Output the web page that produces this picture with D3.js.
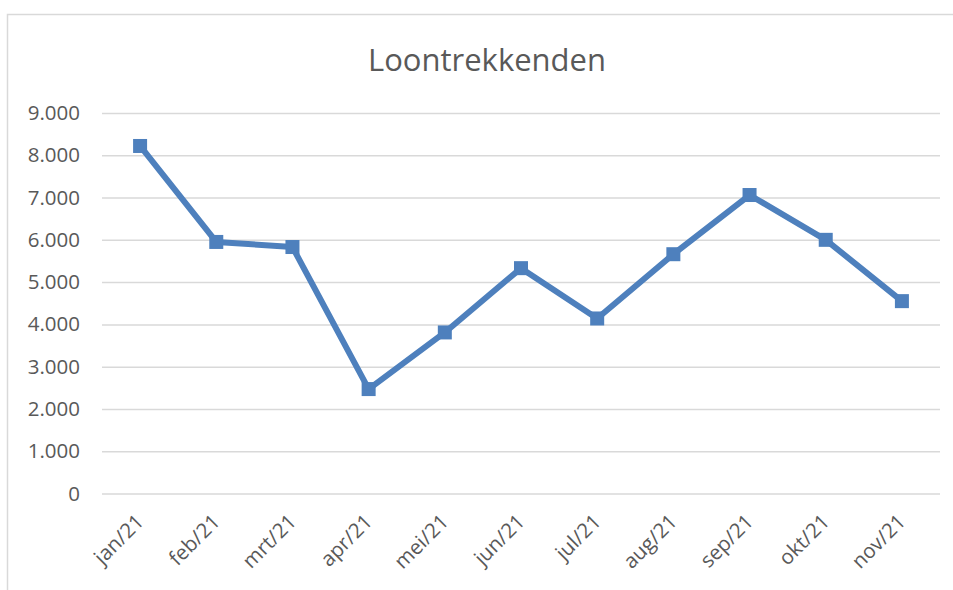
<!DOCTYPE html>
<html>
<head>
<meta charset="utf-8">
<script src="https://cdn.jsdelivr.net/npm/d3@7"></script>
<style>
  body { margin: 0; background: #fff; }
  text { font-family: "Open Sans", sans-serif; fill: #595959; }
</style>
</head>
<body>
<div id="chart"></div>
<script>
  // Data
  var months = ['jan/21', 'feb/21', 'mrt/21', 'apr/21', 'mei/21', 'jun/21',
                'jul/21', 'aug/21', 'sep/21', 'okt/21', 'nov/21'];
  var values = [8220, 5950, 5830, 2470, 3810, 5330, 4140, 5660, 7060, 6000, 4550];
  var yTicks = [0, 1000, 2000, 3000, 4000, 5000, 6000, 7000, 8000, 9000];
  var title = 'Loontrekkenden';

  (function () {
    var width = 953;
    var height = 590;
    var plotLeft = 102, plotRight = 940, plotTop = 113, plotBottom = 493.5;
    var color = '#4e80bd';
    var grid = '#d9d9d9';

    var svg = d3.select('#chart')
        .append('svg')
        .attr('width', width)
        .attr('height', height);

    // chart border
    svg.append('rect')
        .attr('x', 7.5).attr('y', 14.5)
        .attr('width', width + 10).attr('height', height + 10)
        .attr('fill', 'none')
        .attr('stroke', grid)
        .attr('stroke-width', 1.5);

    var x = d3.scalePoint()
        .domain(months)
        .range([plotLeft, plotRight])
        .padding(0.5);

    var y = d3.scaleLinear()
        .domain([0, 9000])
        .range([plotBottom, plotTop]);

    var fmt = function(d) {
      return d === 0 ? '0' : d3.format(',')(d).replace(/,/g, '.');
    };

    // gridlines + y labels
    var yAxis = svg.append('g')
        .attr('transform', 'translate(' + plotLeft + ',0)')
        .call(d3.axisLeft(y)
            .tickValues(yTicks)
            .tickSize(-(plotRight - plotLeft))
            .tickPadding(22)
            .tickFormat(fmt));
    yAxis.select('.domain').remove();
    yAxis.selectAll('.tick line')
        .attr('stroke', grid)
        .attr('stroke-width', 1.5);
    yAxis.selectAll('.tick text')
        .attr('font-size', 20.5)
        .attr('font-family', '"Open Sans", sans-serif')
        .attr('fill', '#595959');

    // x labels
    svg.append('g')
        .selectAll('text')
        .data(months)
        .enter()
        .append('text')
        .attr('text-anchor', 'end')
        .attr('font-size', 20.5)
        .attr('transform', function(d) {
          return 'translate(' + (x(d) + 5) + ',' + 523 + ') rotate(-45)';
        })
        .text(function(d) { return d; });

    // line
    var line = d3.line()
        .x(function(d, i) { return x(months[i]); })
        .y(function(d) { return y(d); });

    svg.append('path')
        .datum(values)
        .attr('d', line)
        .attr('fill', 'none')
        .attr('stroke', color)
        .attr('stroke-width', 6)
        .attr('stroke-linejoin', 'round');

    var ms = 14;
    svg.selectAll('rect.marker')
        .data(values)
        .enter()
        .append('rect')
        .attr('class', 'marker')
        .attr('x', function(d, i) { return x(months[i]) - ms / 2; })
        .attr('y', function(d) { return y(d) - ms / 2; })
        .attr('width', ms)
        .attr('height', ms)
        .attr('fill', color);

    svg.append('text')
        .attr('x', 487)
        .attr('y', 71)
        .attr('text-anchor', 'middle')
        .attr('font-size', 31)
        .text(title);
  })();
</script>
</body>
</html>
